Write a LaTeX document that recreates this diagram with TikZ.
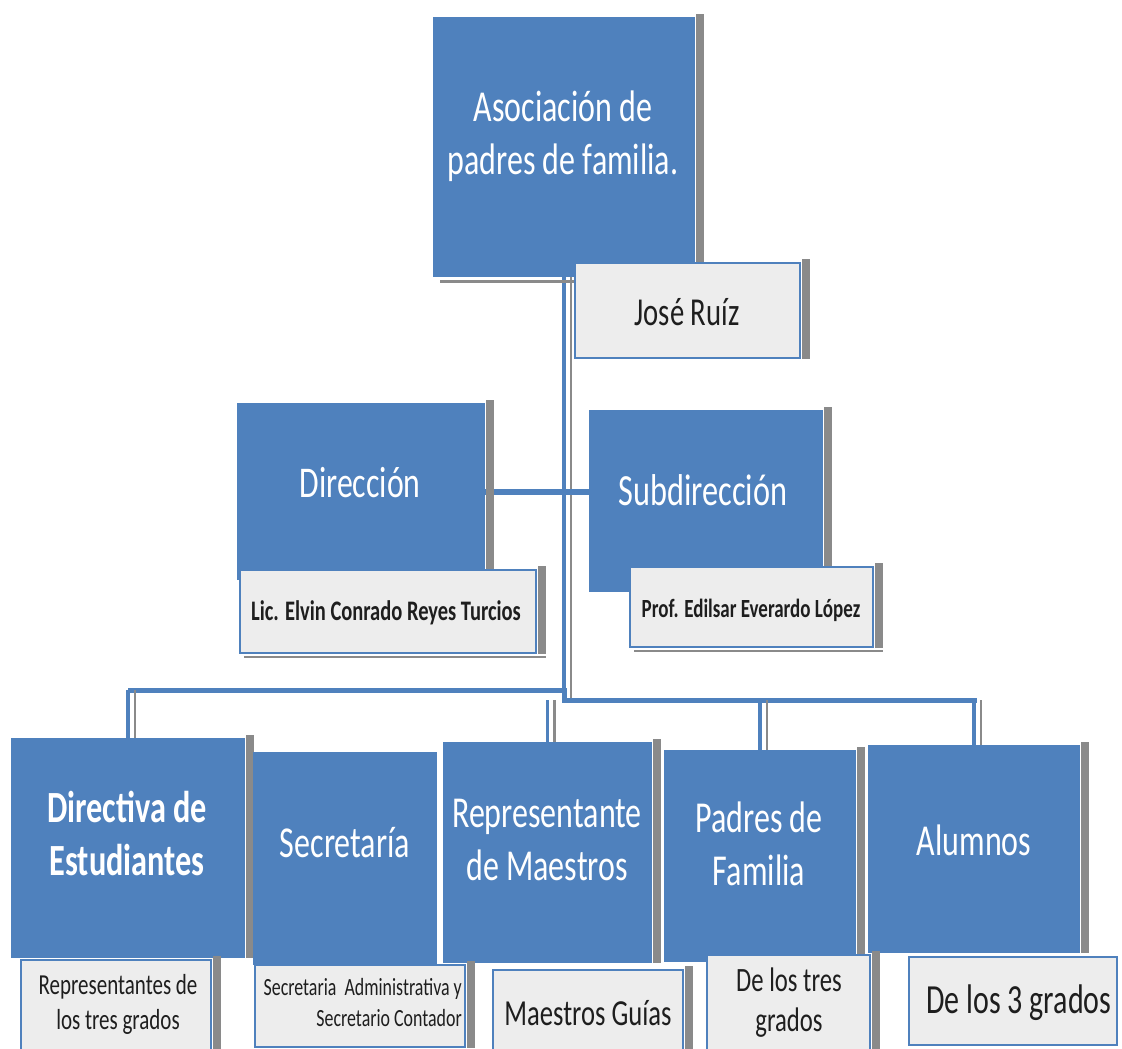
\documentclass[tikz,border=0pt]{standalone}
\usepackage{fontspec}
\setmainfont{Carlito}
\usetikzlibrary{backgrounds}
\definecolor{boxblue}{HTML}{4F81BD}
\definecolor{lightfill}{HTML}{EDEDED}
\definecolor{shgray}{HTML}{8A8A8A}
\definecolor{txtdark}{HTML}{1E1E1E}
\newcommand\tallt[1]{\scalebox{1}[1.38]{#1}}
\newcommand\shad[1]{\fill[shgray] ([xshift=0.5pt,yshift=3pt]#1.north east) rectangle ([xshift=9pt]#1.south east);}
\newcommand\twol[3]{\tallt{\begin{tabular}{@{}#1@{}}#2\\#3\end{tabular}}}
\begin{document}
\begin{tikzpicture}[x=1pt,y=-1pt,
  bluebox/.style={rectangle, fill=boxblue, inner sep=0pt},
  lightbox/.style={rectangle, fill=lightfill, draw=boxblue, line width=2.6pt, inner sep=0pt},
  wtext/.style={text=white, inner sep=0pt},
  dtext/.style={text=txtdark, inner sep=0pt},
  big/.style={font=\fontsize{32}{38.5}\selectfont},
  conn/.style={draw=boxblue, line width=4pt},
  connsh/.style={draw=shgray, line width=2.5pt},
]
\clip (0,0) rectangle (1122,1049);

% ---- top
\node[bluebox, minimum width=262pt, minimum height=260pt] (asoc) at (564,147) {};
\shad{asoc}
\node[wtext, big] (asoct) at (563,137) {\twol{c}{Asociación de}{padres de familia.}};
\fill[shgray] ([xshift=7pt,yshift=-3pt]asoc.south west) rectangle ([xshift=12pt,yshift=-6pt]asoc.south);
\node[lightbox, minimum width=225pt, minimum height=95pt] (jose) at (687.5,310.5) {};
\shad{jose}
\node[dtext, font=\fontsize{28.7}{34}\selectfont] (joset) at (687,312) {\tallt{José Ruíz}};

% ---- second level
\node[bluebox, minimum width=248pt, minimum height=177pt] (dir) at (361,491.5) {};
\shad{dir}
\node[wtext, font=\fontsize{31.8}{40}\selectfont] (dirt) at (360,483) {\tallt{Dirección}};
\node[bluebox, minimum width=234pt, minimum height=182pt] (subdir) at (706,501) {};
\shad{subdir}
\node[wtext, font=\fontsize{32.3}{40}\selectfont] (subdirt) at (703,490) {\tallt{Subdirección}};
\node[lightbox, minimum width=296pt, minimum height=83pt] (lic) at (388,611.5) {};
\shad{lic}
\fill[shgray] ([xshift=5pt,yshift=-1.5pt]lic.south west) rectangle ([xshift=9pt,yshift=-4pt]lic.south east);
\node[dtext, font=\bfseries\fontsize{20.5}{26}\selectfont] (lict) at (386,613) {\tallt{Lic. Elvin Conrado Reyes Turcios}};
\node[lightbox, minimum width=243pt, minimum height=80pt] (prof) at (751.5,607) {};
\shad{prof}
\fill[shgray] ([xshift=5pt,yshift=-1.5pt]prof.south west) rectangle ([xshift=9pt,yshift=-4pt]prof.south east);
\node[dtext, font=\bfseries\fontsize{19}{24}\selectfont] (proft) at (751,610) {\tallt{Prof. Edilsar Everardo López}};

% ---- bottom row
\node[bluebox, minimum width=234pt, minimum height=220pt] (dire) at (128,848) {};
\shad{dire}
\node[wtext, font=\bfseries\fontsize{32.3}{38.5}\selectfont] (diret) at (127,838) {\twol{c}{Directiva de}{Estudiantes}};
\node[bluebox, minimum width=184pt, minimum height=213pt] (secr) at (345,858.5) {};
\node[wtext, big] (secrt) at (345,843) {\tallt{Secretaría}};
\node[bluebox, minimum width=209pt, minimum height=221pt] (repm) at (547.5,852.5) {};
\shad{repm}
\node[wtext, big] (repmt) at (547,843) {\twol{c}{Representante}{de Maestros}};
\node[bluebox, minimum width=192pt, minimum height=212pt] (padr) at (760,856) {};
\shad{padr}
\node[wtext, big] (padrt) at (759,848) {\twol{c}{Padres de}{Familia}};
\node[bluebox, minimum width=212pt, minimum height=208pt] (alum) at (974,849) {};
\shad{alum}
\node[wtext, big] (alumt) at (974,840) {\tallt{Alumnos}};

% ---- bottom sub-boxes
\node[lightbox, minimum width=190pt, minimum height=102pt] (repg) at (116,1011) {};
\shad{repg}
\node[dtext, font=\fontsize{21}{25.5}\selectfont] (repgt) at (118,1005) {\twol{c}{Representantes de}{los tres grados}};
\node[lightbox, minimum width=210pt, minimum height=82pt] (seca) at (360,1006) {};
\shad{seca}
\node[dtext, font=\fontsize{17.9}{22}\selectfont, anchor=east] (secat) at (462,1005) {\twol{r}{Secretaria\ \ Administrativa y}{Secretario Contador}};
\node[lightbox, minimum width=190pt, minimum height=92pt] (maeg) at (588,1016) {};
\shad{maeg}
\node[dtext, font=\fontsize{26.6}{32}\selectfont] (maegt) at (588,1013) {\tallt{Maestros Guías}};
\node[lightbox, minimum width=163pt, minimum height=107pt] (detr) at (788.5,1008.5) {};
\shad{detr}
\node[dtext, font=\fontsize{24.7}{29}\selectfont] (detrt) at (789,1003) {\twol{c}{De los tres}{grados}};
\node[lightbox, minimum width=208pt, minimum height=88pt] (de3) at (1013,1001) {};
\node[dtext, font=\fontsize{30}{36}\selectfont] (de3t) at (1019,1003) {\tallt{De los 3 grados}};

% ---- connectors (behind boxes)
\begin{pgfonlayer}{background}
\fill[white] (0,0) rectangle (1122,1049);
\coordinate (bj1) at (564,690);
\coordinate (bj2) at (564,700);
% trunk
\draw[connsh] ([xshift=7pt]asoc.south) -- ([xshift=7pt]asoc.south |- bj2);
\draw[conn] (asoc.south) -- (bj2);
% direccion - subdireccion
\draw[conn, line width=6pt] (dir.east) -- (dir.east -| subdir.west);
% bus
\draw[conn, line width=5pt] (dire.north |- bj1) -- (bj1) -- (bj2) -- ([xshift=3pt]alum.north |- bj2);
% drops
\draw[connsh] ([xshift=7pt]dire.north |- bj1) -- ([xshift=7pt]dire.north);
\draw[conn, line width=3.5pt] (dire.north |- bj1) -- (dire.north);
\draw[connsh] ([xshift=7pt]repm.north |- bj2) -- ([xshift=7pt]repm.north);
\draw[conn, line width=3.5pt] (repm.north |- bj2) -- (repm.north);
\draw[connsh] ([xshift=7pt]padr.north |- bj2) -- ([xshift=7pt]padr.north);
\draw[conn, line width=3.5pt] (padr.north |- bj2) -- (padr.north);
\draw[connsh] ([xshift=7pt]alum.north |- bj2) -- ([xshift=7pt]alum.north);
\draw[conn, line width=3.5pt] (alum.north |- bj2) -- (alum.north);
\end{pgfonlayer}
\end{tikzpicture}
\end{document}
